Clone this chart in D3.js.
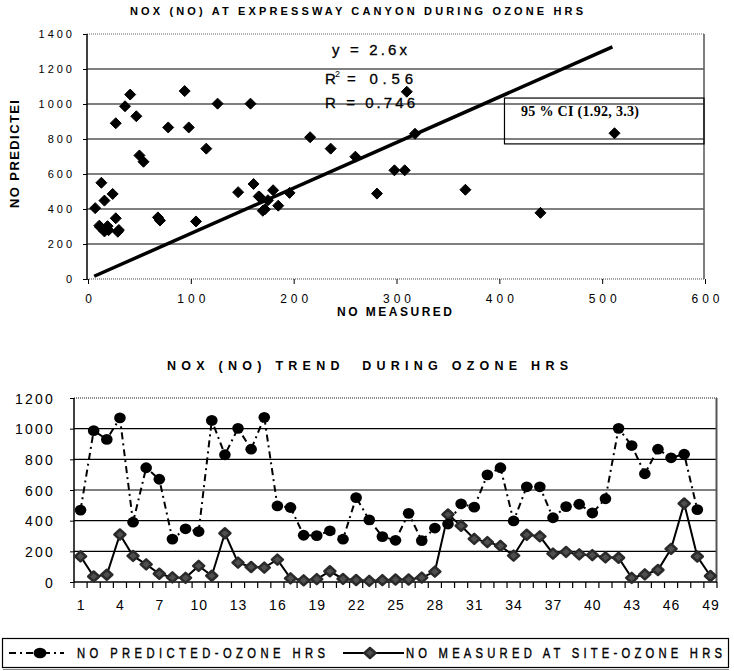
<!DOCTYPE html>
<html><head><meta charset="utf-8">
<script src="https://cdn.jsdelivr.net/npm/d3@7"></script>
<style>body{margin:0;background:#fff}svg{display:block}</style>
</head><body>
<script>
// ---- data ----
const hours = d3.range(1, 50);
const measured = [167,36,47,310,170,115,54,30,27,105,41,318,126,98,94,146,24,11,19,70,20,13,7,12,16,16,29,68,440,367,281,260,236,172,308,298,185,196,180,175,161,158,27,50,78,216,512,166,39];
const predicted = [469,987,930,1070,390,745,670,280,347,329,1054,830,1002,866,1074,496,486,305,302,334,279,550,405,296,272,448,270,352,378,510,488,699,745,398,621,621,419,492,507,450,543,1002,890,706,866,810,833,472,null];
const scatterXTicks = [0,100,200,300,400,500,600];
const scatterYTicks = [0,200,400,600,800,1000,1200,1400];
const trendYTicks = [0,200,400,600,800,1000,1200];
const trendXLabels = [1,4,7,10,13,16,19,22,25,28,31,34,37,40,43,46,49];
const fitSlope = 2.6;
const fitXRange = [6, 510];
const ciBounds = {x0: 405, x1: 600, y0: 772, y1: 1034};
const titleTop = "NOX (NO) AT EXPRESSWAY CANYON DURING OZONE HRS";
const titleBottom = "NOX (NO) TREND  DURING OZONE HRS";
const legendLabels = ["NO PREDICTED-OZONE HRS", "NO MEASURED AT SITE-OZONE HRS"];

const FONT = "'Liberation Sans', Arial, Helvetica, sans-serif";
const W = 734, H = 671;
const fmt = d3.format("d");
const svg = d3.select("body").append("svg").attr("width", W).attr("height", H)
  .style("font-family", FONT);

function label(parent, s, x, y, o = {}) {
  const t = parent.append("text").attr("x", x).attr("y", y).text(s)
    .attr("font-size", o.size || 12)
    .attr("font-weight", o.bold ? "bold" : "normal")
    .attr("text-anchor", o.anchor || "start")
    .style("white-space", "pre")
    .attr("fill", "#000");
  if (o.len) t.attr("textLength", o.len).attr("lengthAdjust", "spacing");
  if (o.family) t.style("font-family", o.family);
  if (o.transform) t.attr("transform", o.transform);
  if (o.heavy) t.attr("stroke", "#000").attr("stroke-width", o.heavy);
  return t;
}

// ================= TOP: scatter =================
const sx = d3.scaleLinear().domain([0, 600]).range([88, 705]);
const sy = d3.scaleLinear().domain([0, 1400]).range([279, 34]);
const gTop = svg.append("g");

label(gTop, titleTop, 130, 15, {bold: true, size: 11, len: 453});

// gridlines
gTop.append("g").selectAll("line").data(scatterYTicks.filter(d => d > 0 && d < 1400)).join("line")
  .attr("x1", sx(0) - 1).attr("x2", sx(600) - 1)
  .attr("y1", d => sy(d)).attr("y2", d => sy(d))
  .attr("stroke", "#000").attr("stroke-width", 1.2);
// frame
gTop.append("line").attr("x1", sx(0) - 1).attr("x2", sx(600) - 1).attr("y1", sy(1400)).attr("y2", sy(1400))
  .attr("stroke", "#666").attr("stroke-width", 1.2).attr("stroke-dasharray", "1,1");
gTop.append("line").attr("x1", sx(600) - 1).attr("x2", sx(600) - 1).attr("y1", sy(1400)).attr("y2", sy(0))
  .attr("stroke", "#555").attr("stroke-width", 1.5);
gTop.append("line").attr("x1", sx(0) - 1).attr("x2", sx(600) - 1).attr("y1", sy(0)).attr("y2", sy(0))
  .attr("stroke", "#444").attr("stroke-width", 1.2).attr("stroke-dasharray", "1,1");
gTop.append("line").attr("x1", sx(0) - 1).attr("x2", sx(0) - 1).attr("y1", sy(1400)).attr("y2", sy(0) + 1)
  .attr("stroke", "#000").attr("stroke-width", 1.5);

// axes
const ayTop = gTop.append("g").attr("transform", `translate(${sx(0) - 1},0)`)
  .call(d3.axisLeft(sy).tickValues(scatterYTicks).tickFormat(fmt).tickSize(4).tickPadding(11));
ayTop.select(".domain").remove();
ayTop.selectAll("text").attr("font-size", 11).attr("font-family", FONT)
  .style("letter-spacing", "3px").attr("dx", "3px").attr("dy", "0.36em");
const axTop = gTop.append("g").attr("transform", `translate(0,${sy(0)})`)
  .call(d3.axisBottom(sx).tickValues(scatterXTicks).tickFormat(fmt).tickSize(5));
axTop.select(".domain").remove();
axTop.selectAll("text").attr("font-size", 12).attr("font-family", FONT)
  .style("letter-spacing", "4px").attr("dx", "2px").attr("y", 24).attr("dy", null);

label(gTop, "NO MEASURED", 337, 316, {bold: true, size: 12, len: 115});
label(gTop, "NO PREDICTEI", 0, 0, {bold: true, size: 13, len: 108, anchor: "middle", transform: "translate(19,154) rotate(-90)"});

// regression line
gTop.append("line")
  .attr("x1", sx(fitXRange[0])).attr("y1", sy(fitSlope * fitXRange[0]))
  .attr("x2", sx(fitXRange[1])).attr("y2", sy(fitSlope * fitXRange[1]))
  .attr("stroke", "#000").attr("stroke-width", 3.5);

// CI box
gTop.append("rect")
  .attr("x", sx(ciBounds.x0)).attr("y", sy(ciBounds.y1))
  .attr("width", sx(ciBounds.x1) - sx(ciBounds.x0) - 1).attr("height", sy(ciBounds.y0) - sy(ciBounds.y1))
  .attr("fill", "none").attr("stroke", "#000").attr("stroke-width", 1.2);
label(gTop, "95 % CI (1.92, 3.3)", 521, 116, {bold: true, size: 14, len: 118, family: "'Liberation Serif', 'Times New Roman', serif"});

// equation
label(gTop, "y = 2.6x", 332, 55, {size: 15, len: 75, heavy: 0.3});
label(gTop, "R", 325, 84, {size: 15, heavy: 0.3});
label(gTop, "2", 335, 77, {size: 9});
label(gTop, "= 0.56", 347, 84, {size: 15, len: 66, heavy: 0.3});
label(gTop, "R = 0.746", 325, 108, {size: 15, len: 90, heavy: 0.3});

// points
const pairs = hours.map((h, i) => ({m: measured[i], p: predicted[i]})).filter(d => d.p != null);
gTop.append("g").selectAll("path").data(pairs).join("path")
  .attr("transform", d => `translate(${sx(d.m)},${sy(d.p)})`)
  .attr("d", "M0,-5.5L5.5,0L0,5.5L-5.5,0Z")
  .attr("fill", "#000").attr("stroke", "#000").attr("stroke-width", 1).attr("stroke-linejoin", "round");

// ================= BOTTOM: trend =================
const bx = d3.scaleBand().domain(hours).range([74, 717]);
const by = d3.scaleLinear().domain([0, 1200]).range([582, 398]);
const cx = h => bx(h) + bx.bandwidth() / 2;
const gBot = svg.append("g");

label(gBot, titleBottom, 167, 370, {bold: true, size: 12.5, len: 401});

gBot.append("g").selectAll("line").data(trendYTicks.filter(d => d > 0 && d < 1200)).join("line")
  .attr("x1", 74).attr("x2", 717).attr("y1", d => by(d)).attr("y2", d => by(d))
  .attr("stroke", "#000").attr("stroke-width", 1.2);
gBot.append("line").attr("x1", 74).attr("x2", 717).attr("y1", by(1200)).attr("y2", by(1200))
  .attr("stroke", "#666").attr("stroke-width", 1.5).attr("stroke-dasharray", "1,1");
gBot.append("line").attr("x1", 716.5).attr("x2", 716.5).attr("y1", by(1200)).attr("y2", by(0))
  .attr("stroke", "#555").attr("stroke-width", 2);
gBot.append("line").attr("x1", 74).attr("x2", 717).attr("y1", by(0)).attr("y2", by(0))
  .attr("stroke", "#000").attr("stroke-width", 1.5);
gBot.append("line").attr("x1", 74).attr("x2", 74).attr("y1", by(1200)).attr("y2", by(0))
  .attr("stroke", "#000").attr("stroke-width", 1.5);

// boundary ticks
gBot.append("g").selectAll("line").data(hours.map(h => bx(h)).concat([bx(49) + bx.bandwidth()])).join("line")
  .attr("x1", d => d).attr("x2", d => d).attr("y1", by(0)).attr("y2", by(0) + 6)
  .attr("stroke", "#000").attr("stroke-width", 1.2);

const ayBot = gBot.append("g").attr("transform", "translate(74,0)")
  .call(d3.axisLeft(by).tickValues(trendYTicks).tickFormat(fmt).tickSize(4).tickPadding(17));
ayBot.select(".domain").remove();
ayBot.selectAll("text").attr("font-size", 14).attr("font-family", FONT)
  .style("letter-spacing", "2.2px").attr("dx", "2px").attr("dy", "0.36em");
const axBot = gBot.append("g").attr("transform", `translate(0,${by(0)})`)
  .call(d3.axisBottom(bx).tickValues(trendXLabels).tickSize(0));
axBot.select(".domain").remove();
axBot.selectAll("text").attr("font-size", 14).attr("font-family", FONT)
  .style("letter-spacing", "1px").attr("dx", "0.5px").attr("y", 28).attr("dy", null);

const predPts = hours.map((h, i) => ({h, v: predicted[i]}));
const measPts = hours.map((h, i) => ({h, v: measured[i]}));
const lineGen = d3.line().defined(d => d.v != null).x(d => cx(d.h)).y(d => by(d.v));

gBot.append("path").datum(predPts).attr("d", lineGen).attr("fill", "none")
  .attr("stroke", "#000").attr("stroke-width", 2).attr("stroke-dasharray", "7,4,2,4");
gBot.append("path").datum(measPts).attr("d", lineGen).attr("fill", "none")
  .attr("stroke", "#000").attr("stroke-width", 2);

const diamond = "M0,-5L5.5,0L0,5L-5.5,0Z";
gBot.append("g").selectAll("path").data(measPts).join("path")
  .attr("transform", d => `translate(${cx(d.h)},${by(d.v)})`)
  .attr("d", diamond).attr("fill", "#4f4f4f").attr("stroke", "#2a2a2a").attr("stroke-width", 2.5)
  .attr("stroke-linejoin", "round");
gBot.append("g").selectAll("ellipse").data(predPts.filter(d => d.v != null)).join("ellipse")
  .attr("cx", d => cx(d.h)).attr("cy", d => by(d.v)).attr("rx", 5.8).attr("ry", 5.4)
  .attr("fill", "#000");

// ================= LEGEND =================
const leg = svg.append("g");
leg.append("rect").attr("x", 2.5).attr("y", 638.5).attr("width", 726).attr("height", 29)
  .attr("fill", "none").attr("stroke", "#000").attr("stroke-width", 1.2);
leg.append("line").attr("x1", 3).attr("x2", 729).attr("y1", 669.5).attr("y2", 669.5)
  .attr("stroke", "#888").attr("stroke-width", 1);
leg.append("line").attr("x1", 9).attr("x2", 64).attr("y1", 653).attr("y2", 653)
  .attr("stroke", "#000").attr("stroke-width", 2).attr("stroke-dasharray", "7,4,2,4");
leg.append("ellipse").attr("cx", 40).attr("cy", 653).attr("rx", 6.5).attr("ry", 5.2).attr("fill", "#000");
leg.append("line").attr("x1", 343).attr("x2", 404).attr("y1", 653).attr("y2", 653)
  .attr("stroke", "#000").attr("stroke-width", 2);
leg.append("path").attr("transform", "translate(370,653)").attr("d", diamond)
  .attr("fill", "#4f4f4f").attr("stroke", "#2a2a2a").attr("stroke-width", 2.5).attr("stroke-linejoin", "round");
label(leg, legendLabels[0], 0, 0, {size: 15, len: 248 / 0.75, heavy: 0.4, transform: "translate(77,658) scale(0.75,1)"});
label(leg, legendLabels[1], 0, 0, {size: 15, len: 316 / 0.75, heavy: 0.4, transform: "translate(406,658) scale(0.75,1)"});
</script>
</body></html>
